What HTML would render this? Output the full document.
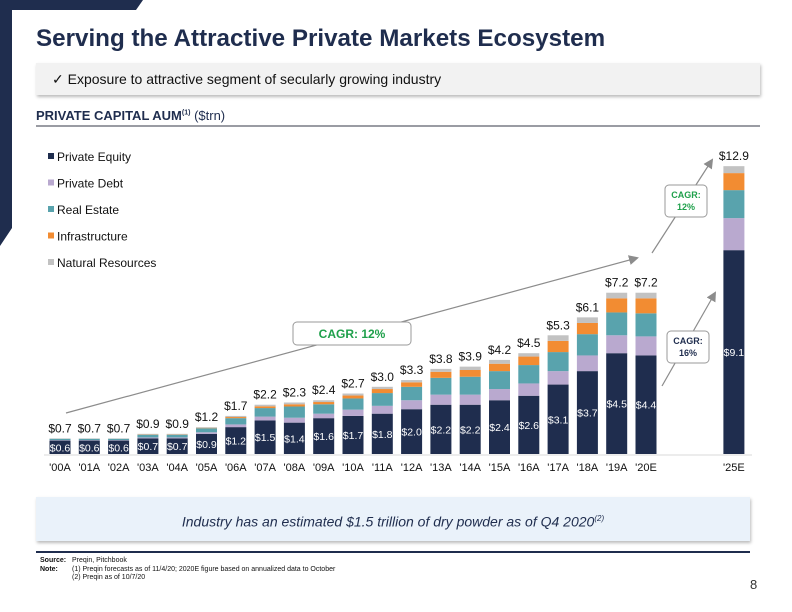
<!DOCTYPE html>
<html><head><meta charset="utf-8"><style>
body{margin:0;width:792px;height:612px;overflow:hidden;background:#fff;font-family:"Liberation Sans",sans-serif;position:relative}
.abs{position:absolute}
</style></head><body>
<svg class="abs" style="left:0;top:0" width="792" height="612">
<polygon points="0,0 143,0 136,10 12,10 12,228 0,246" fill="#1f2d4e"/>
</svg>
<div class="abs" style="left:36px;top:25px;font-size:24.2px;font-weight:bold;color:#1f2d4e">Serving the Attractive Private Markets Ecosystem</div>
<div class="abs" style="left:36px;top:63px;width:724px;height:32px;background:#f2f2f2;box-shadow:1px 2px 3px #bbb;font-size:14px;color:#111;line-height:32px;text-indent:16px">✓ Exposure to attractive segment of secularly growing industry</div>
<div class="abs" style="left:36px;top:108px;width:724px;height:17px;border-bottom:2px solid #9a9ca3;font-size:13px;color:#1f2d4e"><b>PRIVATE CAPITAL AUM<sup style="font-size:7px">(1)</sup></b> ($trn)</div>
<svg id="chart" class="abs" style="left:0;top:0" width="792" height="612"></svg>
<div class="abs" style="left:36px;top:497px;width:714px;height:44px;background:#eaf2fa;box-shadow:1px 2px 3px #bbb;font-size:14px;font-style:italic;color:#1f2d4e;text-align:center;line-height:44px">Industry has an estimated $1.5 trillion of dry powder as of Q4 2020<sup style="font-size:8px">(2)</sup></div>
<div class="abs" style="left:36px;top:551px;width:714px;height:2px;background:#1f2d4e"></div>
<div class="abs" style="left:40px;top:557px;font-size:7px;line-height:8.5px;color:#111">
<div><b style="display:inline-block;width:32px">Source:</b>Preqin, Pitchbook</div>
<div><b style="display:inline-block;width:32px">Note:</b>(1) Preqin forecasts as of 11/4/20; 2020E figure based on annualized data to October</div>
<div><span style="display:inline-block;width:32px"></span>(2) Preqin as of 10/7/20</div></div>
<div class="abs" style="left:750px;top:577px;font-size:13px;color:#333">8</div>
<script>
const categories=["'00A","'01A","'02A","'03A","'04A","'05A","'06A","'07A","'08A","'09A","'10A","'11A","'12A","'13A","'14A","'15A","'16A","'17A","'18A","'19A","'20E","'25E"];
const totals=[0.7,0.7,0.7,0.9,0.9,1.2,1.7,2.2,2.3,2.4,2.7,3.0,3.3,3.8,3.9,4.2,4.5,5.3,6.1,7.2,7.2,12.9];
const privateEquity=[0.6,0.6,0.6,0.7,0.7,0.9,1.2,1.5,1.4,1.6,1.7,1.8,2.0,2.2,2.2,2.4,2.6,3.1,3.7,4.5,4.4,9.1];
const privateDebt=[0.02,0.02,0.02,0.04,0.04,0.07,0.12,0.17,0.22,0.2,0.28,0.35,0.4,0.45,0.45,0.5,0.55,0.6,0.7,0.8,0.85,1.43];
const realEstate=[0.06,0.06,0.06,0.12,0.12,0.18,0.28,0.38,0.5,0.42,0.5,0.57,0.6,0.75,0.8,0.8,0.82,0.85,0.95,1.02,1.03,1.25];
const infrastructure=[0,0,0,0.01,0.01,0.02,0.05,0.08,0.1,0.1,0.13,0.18,0.2,0.27,0.3,0.33,0.38,0.5,0.5,0.63,0.67,0.76];
const naturalResources=[0.02,0.02,0.02,0.03,0.03,0.03,0.05,0.07,0.08,0.08,0.09,0.1,0.1,0.13,0.15,0.17,0.15,0.25,0.25,0.25,0.25,0.31];
const seriesNames=["Private Equity","Private Debt","Real Estate","Infrastructure","Natural Resources"];
const colors=["#1f2d4e","#b9a9cf","#59a3ad","#f28c32","#c2c2c2"];
const NS="http://www.w3.org/2000/svg";
const svg=document.getElementById('chart');
const base=454, k=22.4;
const slot=i=>i===21?23:i;
const x=i=>60+slot(i)*29.3;
const y=v=>base-v*k;
function mk(t,a,txt){const e=document.createElementNS(NS,t);for(const n in a)e.setAttribute(n,a[n]);if(txt!=null)e.textContent=txt;svg.appendChild(e);return e;}
const series=[privateEquity,privateDebt,realEstate,infrastructure,naturalResources];
const bl=mk('line',{x1:44,x2:752,y1:base+1,y2:base+1,stroke:'#d8d8d8','stroke-width':1});


categories.forEach((c,i)=>{
  let cum=0;
  series.forEach((s,j)=>{
    const v=s[i];
    const r=mk('rect',{x:x(i)-10.5,y:y(cum+v),width:21,height:Math.max(0,v*k),fill:colors[j]});
    
    
    cum+=v;
  });
  const pe=privateEquity[i];
  const pl=mk('text',{x:x(i),y:y(pe/2)+4,'text-anchor':'middle','font-size':10.5,fill:'#fff'},'$'+pe.toFixed(1));
  
  
  const tl=mk('text',{x:x(i),y:y(cum)-6,'text-anchor':'middle','font-size':12,fill:'#111'},'$'+totals[i].toFixed(1));
  
  
  const cl=mk('text',{x:x(i),y:471,'text-anchor':'middle','font-size':11,fill:'#111'},c);
  
  
});
seriesNames.forEach((n,j)=>{
  const yy=157+j*26.5;
  const s=mk('rect',{x:48,y:yy-4,width:6,height:6,fill:colors[j]});
  
  
  const t=mk('text',{x:57,y:yy+4,'font-size':12,fill:'#111'},n);
  
  
});
const defs=mk('defs',{});
const m=document.createElementNS(NS,'marker');
m.setAttribute('id','ah');m.setAttribute('markerWidth','10');m.setAttribute('markerHeight','10');m.setAttribute('refX','8');m.setAttribute('refY','5');m.setAttribute('orient','auto');m.setAttribute('markerUnits','userSpaceOnUse');
const mp=document.createElementNS(NS,'path');mp.setAttribute('d','M0,0 L10,5 L0,10 z');mp.setAttribute('fill','#8c8c8c');m.appendChild(mp);defs.appendChild(m);
[[66,413,637,258],[652,253,712,160],[662,386,715,293]].forEach(a=>{
  const l=mk('line',{x1:a[0],y1:a[1],x2:a[2],y2:a[3],stroke:'#8c8c8c','stroke-width':1.2,'marker-end':'url(#ah)'});
  
  
});
[[293,322,118,23,'CAGR: 12%','#1fa04b',12,null],[665,185,42,32,'CAGR:','#1fa04b',9,'12%'],[667,331,42,32,'CAGR:','#1f2d4e',9,'16%']].forEach(b=>{
  const r=mk('rect',{x:b[0],y:b[1],width:b[2],height:b[3],rx:4,fill:'#fff',stroke:'#999','stroke-width':1});
  
  
  const cx=b[0]+b[2]/2;
  if(b[7]==null){
    const t=mk('text',{x:cx,y:b[1]+16,'text-anchor':'middle','font-size':b[6],'font-weight':'bold',fill:b[5]},b[4]);
    
    
  } else {
    const t=mk('text',{x:cx,y:b[1]+13,'text-anchor':'middle','font-size':b[6],'font-weight':'bold',fill:b[5]},b[4]);
    
    
    const t2=mk('text',{x:cx,y:b[1]+25,'text-anchor':'middle','font-size':b[6],'font-weight':'bold',fill:b[5]},b[7]);
    
    
  }
});
</script>
</body></html>
